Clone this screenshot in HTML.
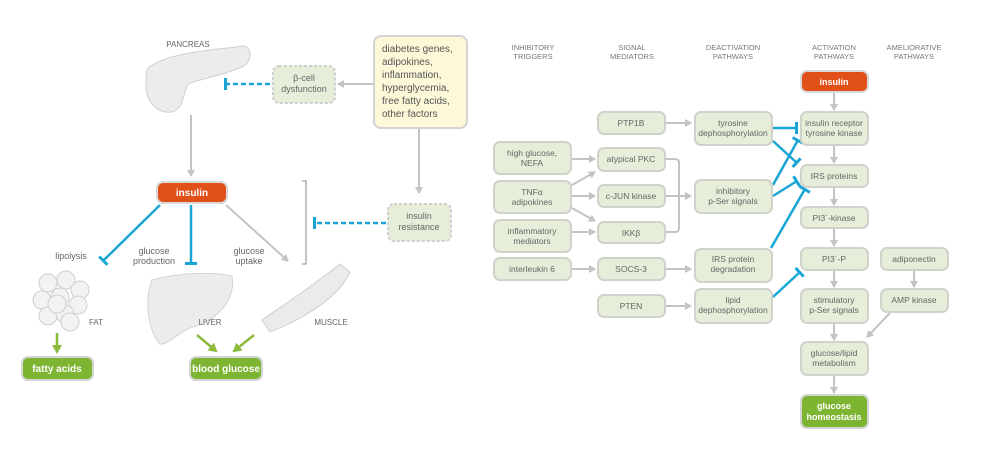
<!DOCTYPE html>
<html><head><meta charset="utf-8"><style>
html,body{margin:0;padding:0;background:#fff;}
svg{display:block;font-family:"Liberation Sans",sans-serif;}
</style></head><body>
<svg width="982" height="468" viewBox="0 0 982 468" xmlns="http://www.w3.org/2000/svg">
<defs>
<marker id="ag" markerWidth="8" markerHeight="8" refX="6" refY="4" orient="auto" markerUnits="userSpaceOnUse"><path d="M0,0 L7,4 L0,8 z" fill="#c3c3c3"/></marker>
<marker id="agr" markerWidth="10" markerHeight="10" refX="7" refY="5" orient="auto" markerUnits="userSpaceOnUse"><path d="M0,0 L9,5 L0,10 z" fill="#8cbb3c"/></marker>
<marker id="tb" markerWidth="4" markerHeight="12" refX="2" refY="6" orient="auto" markerUnits="userSpaceOnUse"><rect x="0" y="0" width="3" height="12" fill="#1aa6d4"/></marker>
</defs>
<g font-size="9" fill="#666" text-anchor="middle">
<!-- LEFT PANEL -->
<text x="188" y="47" font-size="8">PANCREAS</text>
<path d="M148,68 C168,52 215,50 244,46 C252,48 252,60 244,66 C222,76 202,78 188,84 C182,96 184,108 172,112 C156,114 146,100 146,86 C146,78 146,72 148,68 z" fill="#ececec" stroke="#cfcfcf"/>
<line x1="191" y1="115" x2="191" y2="176" stroke="#c3c3c3" stroke-width="2" marker-end="url(#ag)"/>
<rect x="374" y="36" width="93" height="92" rx="7" fill="#fdf9d8" stroke="#d3d3d3" stroke-width="2"/>
<g text-anchor="start" font-size="10" fill="#555"><text x="382" y="52">diabetes genes,</text><text x="382" y="65">adipokines,</text><text x="382" y="78">inflammation,</text><text x="382" y="91">hyperglycemia,</text><text x="382" y="104">free fatty acids,</text><text x="382" y="117">other factors</text></g>
<line x1="373" y1="84" x2="338" y2="84" stroke="#c3c3c3" stroke-width="2" marker-end="url(#ag)"/>
<rect x="273" y="66" width="62" height="37" rx="6" fill="#e6eed9" stroke="#cfcfcf" stroke-width="2" stroke-dasharray="3,2"/>
<text x="304" y="81">β-cell</text><text x="304" y="92">dysfunction</text>
<line x1="270" y1="84" x2="225" y2="84" stroke="#1aa6d4" stroke-width="2.5" stroke-dasharray="5,3" marker-end="url(#tb)"/>
<line x1="419" y1="129" x2="419" y2="193" stroke="#c3c3c3" stroke-width="2" marker-end="url(#ag)"/>
<rect x="388" y="204" width="63" height="37" rx="6" fill="#e6eed9" stroke="#cfcfcf" stroke-width="2" stroke-dasharray="3,2"/>
<text x="419" y="219">insulin</text><text x="419" y="230">resistance</text>
<line x1="386" y1="223" x2="314" y2="223" stroke="#1aa6d4" stroke-width="2.5" stroke-dasharray="5,3" marker-end="url(#tb)"/>
<path d="M302,181 L306,181 L306,264 L302,264" fill="none" stroke="#888" stroke-width="1"/>
<rect x="157" y="182" width="70" height="21" rx="6" fill="#e2501a" stroke="#d9d9d9" stroke-width="2"/>
<text x="192" y="196" fill="#fff" font-weight="bold" font-size="10">insulin</text>
<line x1="160" y1="205" x2="103" y2="261" stroke="#1aa6d4" stroke-width="2.5" marker-end="url(#tb)"/>
<line x1="191" y1="205" x2="191" y2="264" stroke="#1aa6d4" stroke-width="2.5" marker-end="url(#tb)"/>
<line x1="226" y1="205" x2="288" y2="261" stroke="#c3c3c3" stroke-width="2" marker-end="url(#ag)"/>
<text x="71" y="259">lipolysis</text>
<text x="154" y="254">glucose</text><text x="154" y="264">production</text>
<text x="249" y="254">glucose</text><text x="249" y="264">uptake</text>
<g fill="#f2f2f2" stroke="#cfcfcf">
<circle cx="48" cy="283" r="9"/><circle cx="66" cy="280" r="9"/><circle cx="80" cy="290" r="9"/><circle cx="42" cy="300" r="9"/><circle cx="60" cy="297" r="9"/><circle cx="78" cy="305" r="9"/><circle cx="48" cy="316" r="9"/><circle cx="65" cy="314" r="9"/><circle cx="70" cy="322" r="9"/><circle cx="57" cy="304" r="9"/>
</g>
<text x="96" y="325" font-size="8">FAT</text>
<path d="M152,280 C180,272 215,272 232,276 C236,300 218,320 190,328 C175,335 168,345 160,344 C148,330 144,300 152,280 z" fill="#ececec" stroke="#d5d5d5"/>
<text x="210" y="325" font-size="8">LIVER</text>
<path d="M340,264 L350,272 C338,298 305,318 270,332 L262,320 C288,302 318,282 340,264 z" fill="#ebebeb" stroke="#cfcfcf"/>
<text x="331" y="325" font-size="8">MUSCLE</text>
<line x1="57" y1="333" x2="57" y2="352" stroke="#8cbb3c" stroke-width="2.5" marker-end="url(#agr)"/>
<line x1="197" y1="335" x2="216" y2="351" stroke="#8cbb3c" stroke-width="2.5" marker-end="url(#agr)"/>
<line x1="254" y1="335" x2="234" y2="351" stroke="#8cbb3c" stroke-width="2.5" marker-end="url(#agr)"/>
<rect x="22" y="357" width="71" height="23" rx="6" fill="#7db431" stroke="#d5d5d5" stroke-width="2"/>
<text x="57" y="372" fill="#fff" font-weight="bold" font-size="10">fatty acids</text>
<rect x="190" y="357" width="72" height="23" rx="6" fill="#7db431" stroke="#d5d5d5" stroke-width="2"/>
<text x="226" y="372" fill="#fff" font-weight="bold" font-size="10">blood glucose</text>

<!-- RIGHT PANEL headers -->
<g font-size="7.5" fill="#777">
<text x="533" y="50">INHIBITORY</text><text x="533" y="59">TRIGGERS</text>
<text x="632" y="50">SIGNAL</text><text x="632" y="59">MEDIATORS</text>
<text x="733" y="50">DEACTIVATION</text><text x="733" y="59">PATHWAYS</text>
<text x="834" y="50">ACTIVATION</text><text x="834" y="59">PATHWAYS</text>
<text x="914" y="50">AMELIORATIVE</text><text x="914" y="59">PATHWAYS</text>
</g>
<g stroke="#c3c3c3" stroke-width="2" fill="none">
<line x1="666" y1="123" x2="691" y2="123" marker-end="url(#ag)"/>
<line x1="572" y1="159" x2="595" y2="159" marker-end="url(#ag)"/>
<line x1="572" y1="185" x2="595" y2="172" marker-end="url(#ag)"/>
<line x1="572" y1="196" x2="595" y2="196" marker-end="url(#ag)"/>
<line x1="572" y1="208" x2="595" y2="221" marker-end="url(#ag)"/>
<line x1="572" y1="232" x2="595" y2="232" marker-end="url(#ag)"/>
<line x1="572" y1="269" x2="595" y2="269" marker-end="url(#ag)"/>
<line x1="666" y1="269" x2="691" y2="269" marker-end="url(#ag)"/>
<line x1="666" y1="306" x2="691" y2="306" marker-end="url(#ag)"/>
<path d="M666,159 L675,159 Q679,159 679,163 L679,228 Q679,232 675,232 L666,232"/>
<line x1="666" y1="196" x2="691" y2="196" marker-end="url(#ag)"/>
<line x1="834" y1="93" x2="834" y2="110" marker-end="url(#ag)"/>
<line x1="834" y1="146" x2="834" y2="163" marker-end="url(#ag)"/>
<line x1="834" y1="188" x2="834" y2="205" marker-end="url(#ag)"/>
<line x1="834" y1="229" x2="834" y2="246" marker-end="url(#ag)"/>
<line x1="834" y1="271" x2="834" y2="287" marker-end="url(#ag)"/>
<line x1="834" y1="324" x2="834" y2="340" marker-end="url(#ag)"/>
<line x1="834" y1="376" x2="834" y2="393" marker-end="url(#ag)"/>
<line x1="914" y1="271" x2="914" y2="287" marker-end="url(#ag)"/>
<line x1="890" y1="313" x2="867" y2="337" marker-end="url(#ag)"/>
</g>
<g stroke="#1aa6d4" stroke-width="2.5">
<line x1="773" y1="128" x2="797" y2="128" marker-end="url(#tb)"/>
<line x1="773" y1="141" x2="797" y2="163" marker-end="url(#tb)"/>
<line x1="773" y1="185" x2="798" y2="140" marker-end="url(#tb)"/>
<line x1="773" y1="196" x2="797" y2="181" marker-end="url(#tb)"/>
<line x1="771" y1="248" x2="805" y2="189" marker-end="url(#tb)"/>
<line x1="773" y1="297" x2="800" y2="272" marker-end="url(#tb)"/>
</g>
<g fill="#e6edd8" stroke="#d0d3cb" stroke-width="2">
<rect x="494" y="142" width="77" height="32" rx="6"/>
<rect x="494" y="181" width="77" height="32" rx="6"/>
<rect x="494" y="220" width="77" height="32" rx="6"/>
<rect x="494" y="258" width="77" height="22" rx="6"/>
<rect x="598" y="112" width="67" height="22" rx="6"/>
<rect x="598" y="148" width="67" height="23" rx="6"/>
<rect x="598" y="185" width="67" height="22" rx="6"/>
<rect x="598" y="222" width="67" height="21" rx="6"/>
<rect x="598" y="258" width="67" height="22" rx="6"/>
<rect x="598" y="295" width="67" height="22" rx="6"/>
<rect x="695" y="112" width="77" height="33" rx="6"/>
<rect x="695" y="180" width="77" height="33" rx="6"/>
<rect x="695" y="249" width="77" height="33" rx="6"/>
<rect x="695" y="289" width="77" height="34" rx="6"/>
<rect x="801" y="112" width="67" height="33" rx="6"/>
<rect x="801" y="165" width="67" height="22" rx="6"/>
<rect x="801" y="207" width="67" height="21" rx="6"/>
<rect x="801" y="248" width="67" height="22" rx="6"/>
<rect x="801" y="289" width="67" height="34" rx="6"/>
<rect x="801" y="342" width="67" height="33" rx="6"/>
<rect x="881" y="248" width="67" height="22" rx="6"/>
<rect x="881" y="289" width="67" height="23" rx="6"/>
</g>
<rect x="801" y="71" width="67" height="21" rx="6" fill="#e2501a" stroke="#d9d9d9" stroke-width="2"/>
<text x="834" y="85" fill="#fff" font-weight="bold">insulin</text>
<rect x="801" y="395" width="67" height="33" rx="6" fill="#7db431" stroke="#d5d5d5" stroke-width="2"/>
<text x="834" y="409" fill="#fff" font-weight="bold">glucose</text><text x="834" y="420" fill="#fff" font-weight="bold">homeostasis</text>
<g font-size="8.5" fill="#666">
<text x="532" y="156">high glucose,</text><text x="532" y="166">NEFA</text>
<text x="532" y="195">TNFα</text><text x="532" y="205">adipokines</text>
<text x="532" y="234">inflammatory</text><text x="532" y="244">mediators</text>
<text x="532" y="272">interleukin 6</text>
<text x="631" y="126">PTP1B</text>
<text x="631" y="162">atypical PKC</text>
<text x="631" y="199">c-JUN kinase</text>
<text x="631" y="236">IKKβ</text>
<text x="631" y="272">SOCS-3</text>
<text x="631" y="309">PTEN</text>
<text x="733" y="126">tyrosine</text><text x="733" y="136">dephosphorylation</text>
<text x="733" y="194">inhibitory</text><text x="733" y="204">p-Ser signals</text>
<text x="733" y="262">IRS protein</text><text x="733" y="272">degradation</text>
<text x="733" y="303">lipid</text><text x="733" y="313">dephosphorylation</text>
<text x="834" y="126">insulin receptor</text><text x="834" y="136">tyrosine kinase</text>
<text x="834" y="179">IRS proteins</text>
<text x="834" y="221">PI3´-kinase</text>
<text x="834" y="262">PI3´-P</text>
<text x="834" y="303">stimulatory</text><text x="834" y="313">p-Ser signals</text>
<text x="834" y="356">glucose/lipid</text><text x="834" y="366">metabolism</text>
<text x="914" y="262">adiponectin</text>
<text x="914" y="303">AMP kinase</text>
</g>
</g>
</svg>
</body></html>
